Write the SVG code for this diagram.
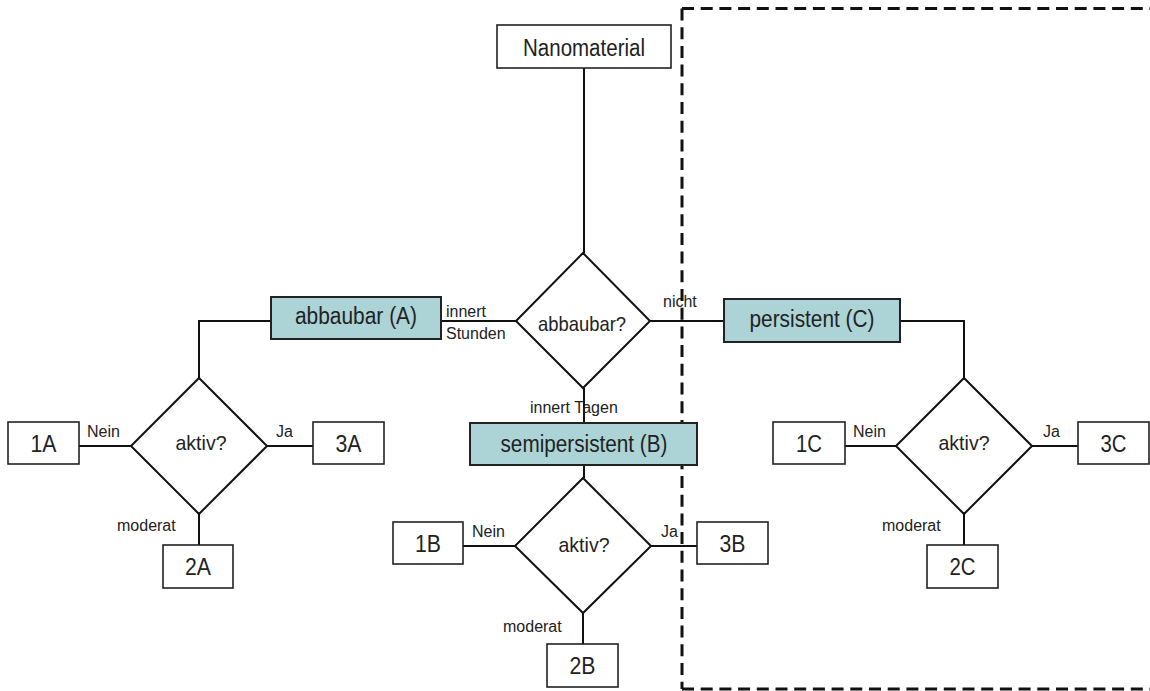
<svg xmlns="http://www.w3.org/2000/svg" width="1150" height="691" viewBox="0 0 1150 691">
<style>
.box{fill:#fff;stroke:#222;stroke-width:1.6}
.cat{fill:#acd4d6;stroke:#222;stroke-width:2}
.dia{fill:#fff;stroke:#111;stroke-width:2}
.ln{fill:none;stroke:#111;stroke-width:2}
.dash{fill:none;stroke:#111;stroke-width:3;stroke-dasharray:12 6.7}
text{font-family:"Liberation Sans",Arial,sans-serif;fill:#222}
.t23{font-size:23px;text-anchor:middle}
.t21{font-size:21px;text-anchor:middle}
.lb{font-size:16px}
</style>
<rect width="1150" height="691" fill="#fff"/>
<g id="connectors">
<line class="ln" x1="584" y1="68" x2="584" y2="253"/>
<line class="ln" x1="441" y1="321" x2="516" y2="321"/>
<line class="ln" x1="650" y1="321" x2="724" y2="321"/>
<line class="ln" x1="584" y1="388" x2="584" y2="423"/>
<polyline class="ln" points="271,321 199,321 199,378"/>
<polyline class="ln" points="900,321 964,321 964,378"/>
<line class="ln" x1="79" y1="446" x2="131" y2="446"/>
<line class="ln" x1="267" y1="446" x2="313" y2="446"/>
<line class="ln" x1="199" y1="514" x2="199" y2="545"/>
<line class="ln" x1="584" y1="465" x2="584" y2="478"/>
<line class="ln" x1="463" y1="546" x2="515" y2="546"/>
<line class="ln" x1="651" y1="546" x2="697" y2="546"/>
<line class="ln" x1="583" y1="613" x2="583" y2="644"/>
<line class="ln" x1="845" y1="446" x2="896" y2="446"/>
<line class="ln" x1="1032" y1="446" x2="1078" y2="446"/>
<line class="ln" x1="964" y1="514" x2="964" y2="545"/>
<text class="lb" x="446" y="317">innert</text>
<text class="lb" x="446" y="339">Stunden</text>
<text class="lb" x="663" y="307">nicht</text>
<text class="lb" x="530" y="413">innert Tagen</text>
<text class="lb" x="87" y="437">Nein</text>
<text class="lb" x="276" y="437">Ja</text>
<text class="lb" x="117" y="531">moderat</text>
<text class="lb" x="472" y="537">Nein</text>
<text class="lb" x="661" y="537">Ja</text>
<text class="lb" x="503" y="632">moderat</text>
<text class="lb" x="853" y="437">Nein</text>
<text class="lb" x="1043" y="437">Ja</text>
<text class="lb" x="882" y="531">moderat</text>
</g>
<g id="region">
<path class="dash" d="M682,8.5 H1200 M682,8.5 V689 M682,689 H1200"/>
</g>
<g id="nanomaterial"><rect class="box" x="497" y="25" width="174" height="43"/><text class="t23" x="584" y="56" textLength="122" lengthAdjust="spacingAndGlyphs">Nanomaterial</text></g>
<g id="abbaubar-q"><polygon class="dia" points="583,253 650,321 583,388 516,321"/><text class="t21" x="582" y="331" textLength="88" lengthAdjust="spacingAndGlyphs">abbaubar?</text></g>
<g id="abbaubar-A"><rect class="cat" x="271" y="297" width="170" height="42"/><text class="t23" x="356" y="324" textLength="122" lengthAdjust="spacingAndGlyphs">abbaubar (A)</text></g>
<g id="persistent-C"><rect class="cat" x="724" y="299" width="176" height="43"/><text class="t23" x="812" y="327" textLength="125" lengthAdjust="spacingAndGlyphs">persistent (C)</text></g>
<g id="semipersistent-B"><rect class="cat" x="470" y="423" width="227" height="42"/><text class="t23" x="584" y="452" textLength="167" lengthAdjust="spacingAndGlyphs">semipersistent (B)</text></g>
<g id="aktiv-A"><polygon class="dia" points="199,378 267,446 199,514 131,446"/><text class="t21" x="201" y="450" textLength="51" lengthAdjust="spacingAndGlyphs">aktiv?</text></g>
<g id="aktiv-B"><polygon class="dia" points="583,478 651,546 583,613 515,546"/><text class="t21" x="584" y="552" textLength="51" lengthAdjust="spacingAndGlyphs">aktiv?</text></g>
<g id="aktiv-C"><polygon class="dia" points="964,378 1032,446 964,514 896,446"/><text class="t21" x="964" y="450" textLength="51" lengthAdjust="spacingAndGlyphs">aktiv?</text></g>
<g id="n1A"><rect class="box" x="8" y="422" width="71" height="42"/><text class="t23" x="43.5" y="452" textLength="26" lengthAdjust="spacingAndGlyphs">1A</text></g>
<g id="n3A"><rect class="box" x="313" y="422" width="71" height="42"/><text class="t23" x="348.5" y="452" textLength="26" lengthAdjust="spacingAndGlyphs">3A</text></g>
<g id="n2A"><rect class="box" x="163" y="545" width="70" height="43"/><text class="t23" x="198" y="575" textLength="26" lengthAdjust="spacingAndGlyphs">2A</text></g>
<g id="n1B"><rect class="box" x="393" y="522" width="70" height="42"/><text class="t23" x="428" y="552" textLength="26" lengthAdjust="spacingAndGlyphs">1B</text></g>
<g id="n3B"><rect class="box" x="697" y="522" width="71" height="42"/><text class="t23" x="732.5" y="552" textLength="26" lengthAdjust="spacingAndGlyphs">3B</text></g>
<g id="n2B"><rect class="box" x="547" y="644" width="71" height="43"/><text class="t23" x="582.5" y="674" textLength="26" lengthAdjust="spacingAndGlyphs">2B</text></g>
<g id="n1C"><rect class="box" x="773" y="422" width="72" height="42"/><text class="t23" x="809" y="452" textLength="26" lengthAdjust="spacingAndGlyphs">1C</text></g>
<g id="n3C"><rect class="box" x="1078" y="422" width="71" height="42"/><text class="t23" x="1113.5" y="452" textLength="26" lengthAdjust="spacingAndGlyphs">3C</text></g>
<g id="n2C"><rect class="box" x="927" y="545" width="71" height="43"/><text class="t23" x="962.5" y="575" textLength="26" lengthAdjust="spacingAndGlyphs">2C</text></g>
</svg>
